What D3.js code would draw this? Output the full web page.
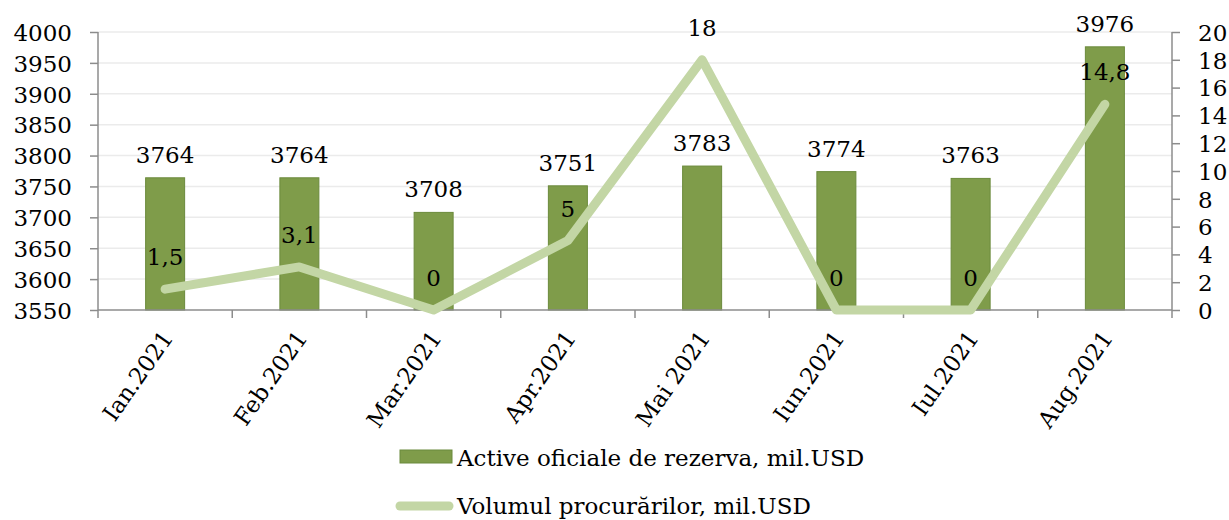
<!DOCTYPE html>
<html><head><meta charset="utf-8">
<script src="https://cdn.jsdelivr.net/npm/d3@7"></script>
<style>body{margin:0;background:#fff;}svg text{font-family:"DejaVu Serif",serif;fill:#000;}</style>
</head><body><svg id="c" width="1229" height="520"></svg>
<script>
const categories = ["Ian.2021","Feb.2021","Mar.2021","Apr.2021","Mai 2021","Iun.2021","Iul.2021","Aug.2021"];
const reserves = [3764,3764,3708,3751,3783,3774,3763,3976];
const purchases = [1.5,3.1,0,5,18,0,0,14.8];
const purchaseLabels = ["1,5","3,1","0","5","18","0","0","14,8"];
const leftTicks = [3550,3600,3650,3700,3750,3800,3850,3900,3950,4000];
const rightTicks = [0,2,4,6,8,10,12,14,16,18,20];
const seriesNames = ["Active oficiale de rezerva, mil.USD","Volumul procurărilor, mil.USD"];

const svg = d3.select("#c");
const L = 98, R = 1172, T = 32, B = 310;
const fs = 23;
const x = d3.scaleBand().domain(categories).range([L,R]).paddingInner(0).paddingOuter(0);
const yL = d3.scaleLinear().domain([3550,4000]).range([B,T]);
const yR = d3.scaleLinear().domain([0,20]).range([B,T]);
const barW = 39;

// gridlines
svg.append("g").selectAll("line").data(leftTicks.slice(1)).join("line")
  .attr("x1",L).attr("x2",R).attr("y1",d=>yL(d)).attr("y2",d=>yL(d))
  .attr("stroke","#ebebeb").attr("stroke-width",1.5);

// bars
svg.append("g").selectAll("rect").data(reserves).join("rect")
  .attr("x",(d,i)=>x(categories[i])+x.bandwidth()/2-barW/2)
  .attr("width",barW)
  .attr("y",d=>yL(d)).attr("height",d=>B-yL(d))
  .attr("fill","#7f9c4a").attr("stroke","#6b8a3c").attr("stroke-width",1);

// axes
const gL = svg.append("g").attr("transform",`translate(${L},0)`)
  .call(d3.axisLeft(yL).tickValues(leftTicks).tickSize(8).tickPadding(18).tickFormat(d3.format("d")));
const gR = svg.append("g").attr("transform",`translate(${R},0)`)
  .call(d3.axisRight(yR).tickValues(rightTicks).tickSize(8).tickPadding(18).tickFormat(d3.format("d")));
const gB = svg.append("g").attr("transform",`translate(0,${B})`)
  .call(d3.axisBottom(x).tickSize(0).tickFormat(""));
[gL,gR,gB].forEach(g=>{
  g.select(".domain").attr("stroke","#8c8c8c").attr("stroke-width",1.5);
  g.selectAll(".tick line").attr("stroke","#8c8c8c").attr("stroke-width",1.5);
  g.selectAll("text").attr("font-size",fs).attr("font-family","DejaVu Serif").attr("fill","#000");
});
gL.select(".domain").attr("d",`M0,${T}V${B}`);
gR.select(".domain").attr("d",`M0,${T}V${B}`);
gB.select(".domain").attr("d",`M${L},0H${R}`);
gL.selectAll(".tick text").attr("dy","0.36em");
gR.selectAll(".tick text").attr("dy","0.36em");
// category boundary ticks
svg.append("g").selectAll("line").data(d3.range(categories.length+1)).join("line")
  .attr("x1",i=>L+i*x.bandwidth()).attr("x2",i=>L+i*x.bandwidth())
  .attr("y1",B).attr("y2",B+8).attr("stroke","#8c8c8c").attr("stroke-width",1.5);

// x labels
svg.append("g").selectAll("text").data(categories).join("text")
  .attr("transform",d=>`translate(${x(d)+x.bandwidth()/2+9},${B+28}) rotate(-55)`)
  .attr("text-anchor","end").attr("font-size",fs).text(d=>d);

// line
const line = d3.line().x((d,i)=>x(categories[i])+x.bandwidth()/2).y(d=>yR(d));
svg.append("path").datum(purchases).attr("d",line)
  .attr("fill","none").attr("stroke","#c3d6a5").attr("stroke-width",9)
  .attr("stroke-linecap","round").attr("stroke-linejoin","round");

// bar labels
svg.append("g").selectAll("text").data(reserves).join("text")
  .attr("x",(d,i)=>x(categories[i])+x.bandwidth()/2)
  .attr("y",d=>yL(d)-15).attr("text-anchor","middle").attr("font-size",fs).text(d=>d);

// line labels
svg.append("g").selectAll("text").data(purchases).join("text")
  .attr("x",(d,i)=>x(categories[i])+x.bandwidth()/2)
  .attr("y",d=>yR(d)-24).attr("text-anchor","middle").attr("font-size",fs).text((d,i)=>purchaseLabels[i]);

// legend
const lg = svg.append("g");
lg.append("rect").attr("x",400).attr("y",450).attr("width",52).attr("height",13)
  .attr("fill","#7f9c4a").attr("stroke","#6b8a3c");
lg.append("text").attr("x",457).attr("y",466).attr("font-size",fs).text(seriesNames[0]);
lg.append("line").attr("x1",400).attr("x2",449).attr("y1",506).attr("y2",506)
  .attr("stroke","#c3d6a5").attr("stroke-width",9).attr("stroke-linecap","round");
lg.append("text").attr("x",457).attr("y",514).attr("font-size",fs).text(seriesNames[1]);
</script></body></html>
